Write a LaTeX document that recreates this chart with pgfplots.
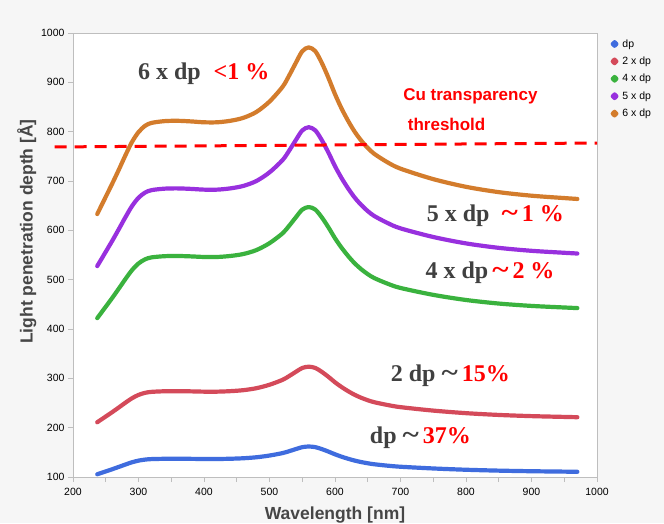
\documentclass[border=0pt]{standalone}
\usepackage{pgfplots}
\pgfplotsset{compat=1.18}
\usepackage{fontspec}
\setmainfont{Liberation Sans}
\newfontfamily\annfont{Liberation Serif}
\definecolor{bggray}{RGB}{246,246,246}
\definecolor{framegray}{RGB}{190,190,190}
\definecolor{txtgray}{RGB}{64,64,64}
\definecolor{labgray}{RGB}{70,70,70}
\definecolor{cblue}{RGB}{63,108,222}
\definecolor{cred}{RGB}{212,74,90}
\definecolor{cgreen}{RGB}{58,178,62}
\definecolor{cpurple}{RGB}{152,48,222}
\definecolor{corange}{RGB}{211,124,44}
\definecolor{ared}{RGB}{255,0,0}

\pgfplotstableread{
x     dp     dpii   dpiv   dpv    dpvi
237   105.5  211    422    527.5  633
250   111.3  222.6  445.2  556.5  668
260   115.8  231.6  463.2  579    695
270   120.5  241    482    602.5  723
280   125.3  250.6  501.2  626.5  752
290   129.8  259.6  519.2  649    779
300   133.2  266.4  532.8  666    799
310   135.3  270.6  541.2  676.5  811.8
320   136.3  272.6  545.2  681.5  817.8
340   136.9  273.8  547.6  684.5  821.4
360   137    274    548    685    822
380   136.8  273.6  547.2  684    820.8
400   136.5  273    546    682.5  819
420   136.5  273    546    682.5  819
440   137    274    548    685    822
460   138    276    552    690    828
480   140    280    560    700    840
500   143.5  287    574    717.5  861
520   148.5  297    594    742.5  891
530   152.3  304.6  609.2  761.5  913.8
540   156.5  313    626    782.5  939
550   160.5  321    642    802.5  963
560   161.8  323.6  647.2  809    970.8
570   160.5  321    642    802.5  963
580   156.5  313    626    782.5  939
590   151.5  303    606    757.5  909
600   146    292    584    730    876
610   141.2  282.4  564.8  706    847
620   137    274    548    685    822
630   133.3  266.6  533.2  666.5  800
640   130.3  260.6  521.2  651.5  782
650   127.8  255.6  511.2  639    767
660   125.8  251.6  503.2  629    755
680   123    246    492    615    738
700   120.8  241.6  483.2  604    725
750   117.3  234.6  469.2  586.5  703.8
800   114.7  229.4  458.8  573.5  688.2
850   112.9  225.8  451.6  564.5  677.4
900   111.7  223.4  446.8  558.5  670.2
950   110.9  221.8  443.6  554.5  665.4
970   110.6  221.2  442.4  553    663.6
}\curves

\newcommand{\wt}{\scalebox{1.3}[1.1]{\textasciitilde}}

\begin{document}
\begin{tikzpicture}
\useasboundingbox (0,0) rectangle (664pt,523pt);
\fill[bggray] (0,0) rectangle (664pt,523pt);
\begin{axis}[
  at={(73pt,46pt)}, anchor=south west,
  scale only axis, width=524pt, height=444pt,
  xmin=200, xmax=1000, ymin=100, ymax=1000,
  xtick={200,300,...,1000}, ytick={100,200,...,1000},
  minor x tick num=1,
  tick pos=left, tick align=outside,
  major tick length=5pt, minor tick length=5pt,
  every tick/.style={framegray, line width=0.6pt},
  axis line style={framegray, line width=0.8pt},
  axis background/.style={fill=white},
  /pgf/number format/assume math mode=true,
  /pgf/number format/1000 sep={},
  ticklabel style={font=\fontsize{10.5}{12}\selectfont, text=black},
  xticklabel style={yshift=-3pt},
  xlabel={Wavelength [nm]},
  ylabel={Light penetration depth [Å]},
  label style={font=\bfseries\fontsize{17.5}{20}\selectfont, text=labgray},
  xlabel style={yshift=-4pt},
  ylabel style={at={(ticklabel cs:0.553)}, yshift=-2pt},
  clip=false,
  legend style={at={(1.02,0.995)}, anchor=north west, draw=none, fill=none,
    font=\fontsize{10.5}{12}\selectfont, row sep=4.3pt, column sep=2pt,
    /tikz/every even column/.append style={column sep=9pt}},
  legend cell align=left,
  legend image code/.code={\fill (0pt,0pt) circle (1.8pt);},
  every axis plot/.append style={line width=4.2pt, line cap=round, line join=round},
]
\addplot[color=cblue, smooth] table[x=x, y=dp] {\curves};
\addlegendentry{dp}
\addplot[color=cred, smooth] table[x=x, y=dpii] {\curves};
\addlegendentry{2 x dp}
\addplot[color=cgreen, smooth] table[x=x, y=dpiv] {\curves};
\addlegendentry{4 x dp}
\addplot[color=cpurple, smooth] table[x=x, y=dpv] {\curves};
\addlegendentry{5 x dp}
\addplot[color=corange, smooth] table[x=x, y=dpvi] {\curves};
\addlegendentry{6 x dp}
\addplot[ared, line width=3pt, line cap=butt, dash pattern=on 12pt off 8pt, forget plot] coordinates {(172,769) (1000,777)};

\node[anchor=base west, font=\annfont\bfseries\fontsize{24}{26}\selectfont, inner sep=0pt] at (axis cs:299,906)
  {\textcolor{txtgray}{6 x dp}\hspace{13pt}\textcolor{ared}{<1 \%}};
\node[anchor=base west, font=\annfont\bfseries\fontsize{24}{26}\selectfont, inner sep=0pt] at (axis cs:740,617)
  {\textcolor{txtgray}{5 x dp}\hspace{12pt}\textcolor{ared}{\wt\,1 \%}};
\node[anchor=base west, font=\annfont\bfseries\fontsize{24}{26}\selectfont, inner sep=0pt] at (axis cs:738,503)
  {\textcolor{txtgray}{4 x dp}\textcolor{ared}{\,\wt\,2 \%}};
\node[anchor=base west, font=\annfont\bfseries\fontsize{24}{26}\selectfont, inner sep=0pt] at (axis cs:685,293)
  {\textcolor{txtgray}{2 dp \wt}\,\textcolor{ared}{15\%}};
\node[anchor=base west, font=\annfont\bfseries\fontsize{24}{26}\selectfont, inner sep=0pt] at (axis cs:653,168)
  {\textcolor{txtgray}{dp \wt}\,\textcolor{ared}{37\%}};
\node[anchor=base west, font=\bfseries\fontsize{17}{20}\selectfont, text=ared, inner sep=0pt] at (axis cs:704,864) {Cu transparency};
\node[anchor=base west, font=\bfseries\fontsize{17}{20}\selectfont, text=ared, inner sep=0pt] at (axis cs:711,803) {threshold};
\end{axis}
\end{tikzpicture}
\end{document}
